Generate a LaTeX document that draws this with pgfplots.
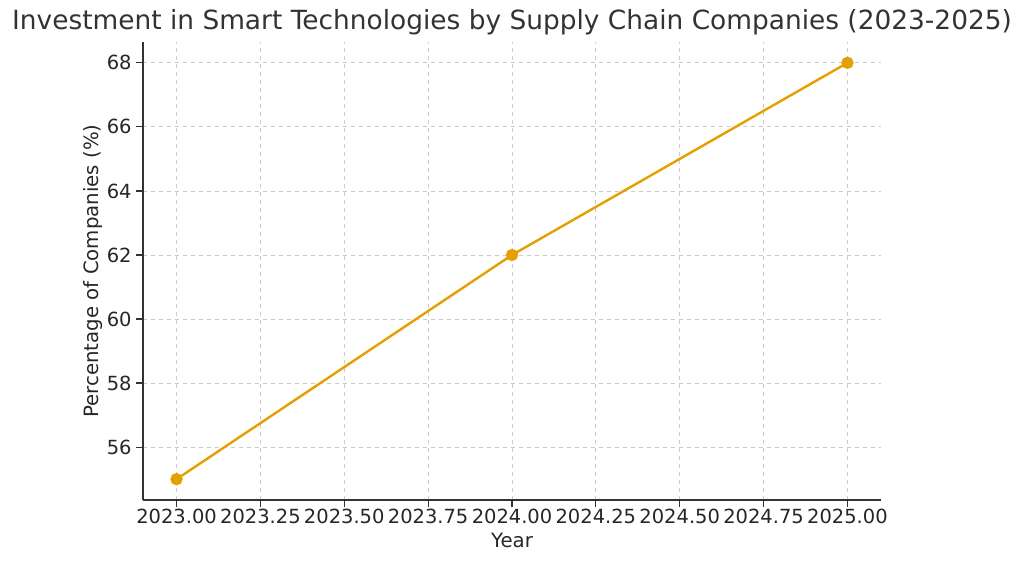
\documentclass[border=0pt]{standalone}
\usepackage{fontspec}
\setmainfont{DejaVu Sans}
\usepackage{pgfplots}
\pgfplotsset{compat=1.18}
\definecolor{lineor}{HTML}{E69F00}
\definecolor{txt}{HTML}{333333}
\definecolor{gridc}{HTML}{CCCCCC}
\begin{document}
\begin{tikzpicture}
\useasboundingbox (-107.25pt,-47.25pt) rectangle (660.75pt,375pt);
\begin{axis}[
  at={(0,0)}, anchor=south west,
  scale only axis, width=553.5pt, height=343.5pt,
  xmin=2022.9, xmax=2025.1, ymin=54.35, ymax=68.65,
  xtick={2023,2023.25,...,2025},
  ytick={56,58,...,68},
  xticklabel={\pgfmathprintnumber[fixed,fixed zerofill,precision=2,use period,1000 sep={}]{\tick}},
  yticklabel={\pgfmathprintnumber[fixed,precision=0]{\tick}},
  /pgf/number format/assume math mode=true,
  ticklabel style={font=\fontsize{14.6}{17}\selectfont, text=black!85},
  xticklabel style={yshift=1.5pt},
  axis x line*=bottom, axis y line*=left,
  axis line style={color=txt, line width=0.9pt, -},
  tick style={color=txt, line width=0.9pt},
  tick align=outside, major tick length=5pt,
  grid=major,
  major grid style={gridc, dashed, line width=0.6pt},
  xlabel={Year}, ylabel={Percentage of Companies (\%)},
  label style={font=\fontsize{14.8}{17}\selectfont, text=black!85},
  ylabel style={yshift=-4pt},
  title={Investment in Smart Technologies by Supply Chain Companies (2023-2025)},
  title style={font=\fontsize{19.8}{23}\selectfont, text=txt, yshift=-4pt},
  clip=false,
]
\addplot[lineor, line width=1.8pt, mark=*, mark size=3.7pt, mark options={fill=lineor, draw=lineor}]
  coordinates {(2023,55) (2024,62) (2025,68)};
\end{axis}
\end{tikzpicture}
\end{document}
